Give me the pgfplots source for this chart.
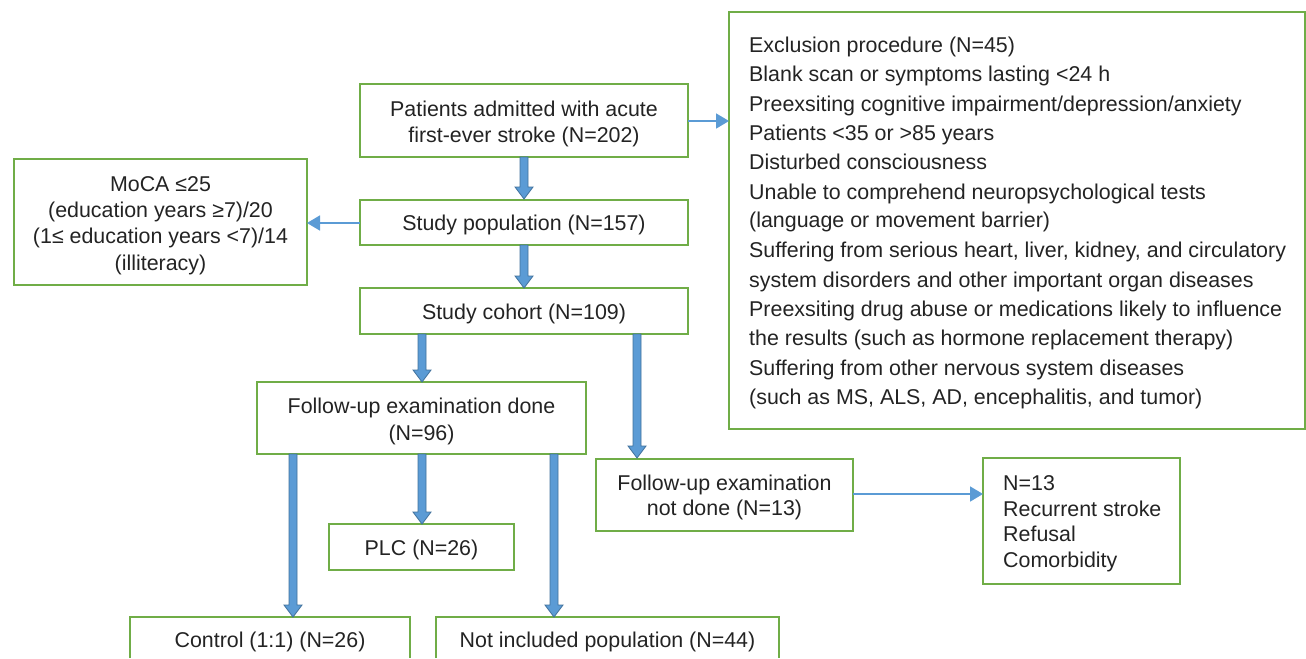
\documentclass[border=0pt]{standalone}
\usepackage{fontspec}
\setmainfont{Liberation Sans}
\usepackage{pgfplots}
\pgfplotsset{compat=1.18}
\usetikzlibrary{arrows.meta}
\definecolor{bgreen}{HTML}{70AD47}
\definecolor{bblue}{HTML}{5B9BD5}
\definecolor{bdark}{HTML}{41719C}
\definecolor{txt}{HTML}{232323}
\tikzset{t/.style={font=\fontsize{21.4pt}{26pt}\selectfont, text=txt, inner sep=0pt}}
\begin{document}
\begin{tikzpicture}
\begin{axis}[
  width=1306pt, height=658pt, scale only axis,
  xmin=0, xmax=1306, ymin=0, ymax=658, y dir=reverse,
  axis lines=none, clip=false,
]
\path (axis cs:0,0) rectangle (axis cs:1306,658);
% boxes
\draw[bgreen, line width=1.8pt] (axis cs:360,84) rectangle (axis cs:688,157);
\draw[bgreen, line width=1.8pt] (axis cs:729,12) rectangle (axis cs:1305,429);
\draw[bgreen, line width=1.8pt] (axis cs:14,159) rectangle (axis cs:307,285);
\draw[bgreen, line width=1.8pt] (axis cs:360,200) rectangle (axis cs:688,245);
\draw[bgreen, line width=1.8pt] (axis cs:360,288) rectangle (axis cs:688,334);
\draw[bgreen, line width=1.8pt] (axis cs:257,382) rectangle (axis cs:586,454);
\draw[bgreen, line width=1.8pt] (axis cs:596,459) rectangle (axis cs:853,531);
\draw[bgreen, line width=1.8pt] (axis cs:983,458) rectangle (axis cs:1180,584);
\draw[bgreen, line width=1.8pt] (axis cs:329,524) rectangle (axis cs:514,570);
\draw[bgreen, line width=1.8pt] (axis cs:130,658) -- (axis cs:130,617) -- (axis cs:410,617) -- (axis cs:410,658);
\draw[bgreen, line width=1.8pt] (axis cs:436,658) -- (axis cs:436,617) -- (axis cs:779,617) -- (axis cs:779,658);
% thick arrows
\addplot[fill=bblue, draw=bdark, line width=0.8pt, mark=none] coordinates {(520,157)(528,157)(528,187)(533,187)(524,199)(515,187)(520,187)} -- cycle;
\addplot[fill=bblue, draw=bdark, line width=0.8pt, mark=none] coordinates {(520,245)(528,245)(528,276)(533,276)(524,288)(515,276)(520,276)} -- cycle;
\addplot[fill=bblue, draw=bdark, line width=0.8pt, mark=none] coordinates {(418,334)(426,334)(426,370)(431,370)(422,382)(413,370)(418,370)} -- cycle;
\addplot[fill=bblue, draw=bdark, line width=0.8pt, mark=none] coordinates {(633,334)(641,334)(641,446)(646,446)(637,458)(628,446)(633,446)} -- cycle;
\addplot[fill=bblue, draw=bdark, line width=0.8pt, mark=none] coordinates {(289,454)(297,454)(297,605)(302,605)(293,617)(284,605)(289,605)} -- cycle;
\addplot[fill=bblue, draw=bdark, line width=0.8pt, mark=none] coordinates {(418,454)(426,454)(426,512)(431,512)(422,524)(413,512)(418,512)} -- cycle;
\addplot[fill=bblue, draw=bdark, line width=0.8pt, mark=none] coordinates {(550,454)(558,454)(558,605)(563,605)(554,617)(545,605)(550,605)} -- cycle;
% thin arrows
\draw[bblue, line width=1.8pt, -{Triangle[length=13pt,width=15pt]}] (axis cs:688,121) -- (axis cs:729,121);
\draw[bblue, line width=1.8pt, -{Triangle[length=13pt,width=15pt]}] (axis cs:360,223) -- (axis cs:307,223);
\draw[bblue, line width=1.8pt, -{Triangle[length=13pt,width=15pt]}] (axis cs:853,494) -- (axis cs:983,494);
% texts
\node[t, anchor=base] at (axis cs:524,116) {Patients admitted with acute};
\node[t, anchor=base] at (axis cs:524,142) {first-ever stroke (N=202)};
\node[t, anchor=base] at (axis cs:524,230) {Study population (N=157)};
\node[t, anchor=base] at (axis cs:524,319) {Study cohort (N=109)};
\node[t, anchor=base] at (axis cs:160.5,191) {MoCA ≤25};
\node[t, anchor=base] at (axis cs:160.5,217) {(education years ≥7)/20};
\node[t, anchor=base] at (axis cs:160.5,243) {(1≤ education years <7)/14};
\node[t, anchor=base] at (axis cs:160.5,270) {(illiteracy)};
\node[t, anchor=base] at (axis cs:421.5,413) {Follow-up examination done};
\node[t, anchor=base] at (axis cs:421.5,440) {(N=96)};
\node[t, anchor=base] at (axis cs:724.5,490) {Follow-up examination};
\node[t, anchor=base] at (axis cs:724.5,515) {not done (N=13)};
\node[t, anchor=base west] at (axis cs:1003,490) {N=13};
\node[t, anchor=base west] at (axis cs:1003,516) {Recurrent stroke};
\node[t, anchor=base west] at (axis cs:1003,541) {Refusal};
\node[t, anchor=base west] at (axis cs:1003,567) {Comorbidity};
\node[t, anchor=base] at (axis cs:421.5,555) {PLC (N=26)};
\node[t, anchor=base] at (axis cs:270,647) {Control (1:1) (N=26)};
\node[t, anchor=base] at (axis cs:607.5,647) {Not included population (N=44)};
\node[t, anchor=base west] at (axis cs:749,52) {Exclusion procedure (N=45)};
\node[t, anchor=base west] at (axis cs:749,81) {Blank scan or symptoms lasting <24 h};
\node[t, anchor=base west] at (axis cs:749,111) {Preexsiting cognitive impairment/depression/anxiety};
\node[t, anchor=base west] at (axis cs:749,140) {Patients <35 or >85 years};
\node[t, anchor=base west] at (axis cs:749,169) {Disturbed consciousness};
\node[t, anchor=base west] at (axis cs:749,199) {Unable to comprehend neuropsychological tests};
\node[t, anchor=base west] at (axis cs:749,227) {(language or movement barrier)};
\node[t, anchor=base west] at (axis cs:749,257) {Suffering from serious heart, liver, kidney, and circulatory};
\node[t, anchor=base west] at (axis cs:749,287) {system disorders and other important organ diseases};
\node[t, anchor=base west] at (axis cs:749,316) {Preexsiting drug abuse or medications likely to influence};
\node[t, anchor=base west] at (axis cs:749,345) {the results (such as hormone replacement therapy)};
\node[t, anchor=base west] at (axis cs:749,375) {Suffering from other nervous system diseases};
\node[t, anchor=base west] at (axis cs:749,404) {(such as MS, ALS, AD, encephalitis, and tumor)};
\end{axis}
\end{tikzpicture}
\end{document}
